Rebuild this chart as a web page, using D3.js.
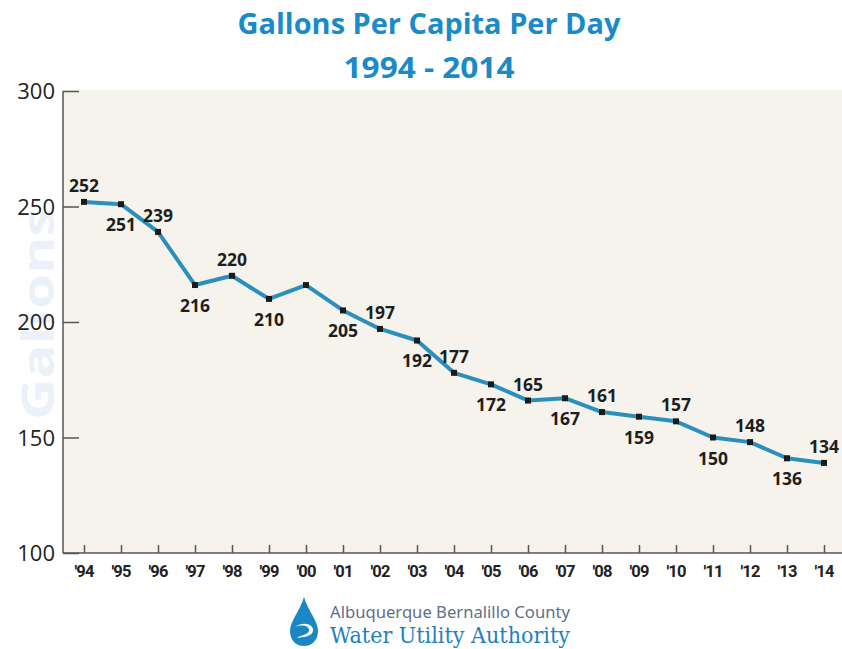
<!DOCTYPE html>
<html>
<head>
<meta charset="utf-8">
<script src="https://cdn.jsdelivr.net/npm/d3@7/dist/d3.min.js"></script>
<style>
  html, body { margin: 0; padding: 0; background: #ffffff; }
  svg { display: block; }
</style>
</head>
<body>
<script>
// ---- data ----
const years = ["'94","'95","'96","'97","'98","'99","'00","'01","'02","'03","'04","'05","'06","'07","'08","'09","'10","'11","'12","'13","'14"];
const gallons = [252, 251, 239, 216, 220, 210, 216, 205, 197, 192, 178, 173, 166, 167, 161, 159, 157, 150, 148, 141, 139];
const pointLabels = ["252","251","239","216","220","210","","205","197","192","177","172","165","167","161","159","157","150","148","136","134"];
const labelSide = ["up","down","up","down","up","down","","down","up","down","up","down","up","down","up","down","up","down","up","down","up"];
const yTicks = [100, 150, 200, 250, 300];
const titleLines = ["Gallons Per Capita Per Day", "1994 - 2014"];

const W = 842, H = 649;
const svg = d3.select("body").append("svg").attr("width", W).attr("height", H);

const plot = { left: 63, right: 842, top: 91, bottom: 553 };

// plot background
svg.append("rect")
  .attr("x", plot.left).attr("y", plot.top - 1)
  .attr("width", plot.right - plot.left).attr("height", plot.bottom - plot.top + 1)
  .attr("fill", "#f6f3ec");

// faint y axis title
const gt = svg.append("text")
  .attr("text-anchor", "middle")
  .attr("font-family", "Open Sans, sans-serif")
  .attr("font-weight", "bold")
  .attr("font-size", 44)
  .attr("fill", "#ecf1f9")
  .text("Gallons");
const gw = gt.node().getComputedTextLength();
gt.attr("transform", `translate(54,314) rotate(-90) scale(${212 / gw},1)`);

const x = d3.scalePoint().domain(years).range([84, 824]);
const y = d3.scaleLinear().domain([100, 300]).range([plot.bottom, plot.top]);

// y axis
const yAxis = svg.append("g")
  .attr("transform", `translate(${plot.left},0)`)
  .call(d3.axisRight(y).tickValues(yTicks).tickSize(16).tickFormat(""));
yAxis.select(".domain").attr("stroke", "#555").attr("stroke-width", 1.5).attr("d", `M0,${plot.top}V${plot.bottom}`);
yAxis.selectAll(".tick line").attr("stroke", "#555").attr("stroke-width", 1.5);

svg.append("g").selectAll("text").data(yTicks).join("text")
  .attr("x", 55).attr("y", d => y(d) + 8)
  .attr("text-anchor", "end")
  .attr("font-family", "Open Sans, sans-serif")
  .attr("font-size", 22)
  .attr("fill", "#222")
  .text(d => d);

// x axis
const xAxis = svg.append("g")
  .attr("transform", `translate(0,${plot.bottom})`)
  .call(d3.axisTop(x).tickSize(8).tickFormat(""));
xAxis.select(".domain").attr("stroke", "#555").attr("stroke-width", 1.5).attr("d", `M${plot.left},0H${plot.right}`);
xAxis.selectAll(".tick line").attr("stroke", "#555").attr("stroke-width", 1.5);

svg.append("g").selectAll("text").data(years).join("text")
  .attr("x", d => x(d)).attr("y", 577)
  .attr("text-anchor", "middle")
  .attr("font-family", "Roboto, sans-serif")
  .attr("font-weight", "bold")
  .attr("font-size", 16.5)
  .attr("letter-spacing", -0.8)
  .attr("fill", "#222")
  .text(d => d);

// line
const pts = years.map((yr, i) => ({ yr, v: gallons[i], lab: pointLabels[i], side: labelSide[i] }));
svg.append("path")
  .datum(pts)
  .attr("fill", "none")
  .attr("stroke", "#2a8fbd")
  .attr("stroke-width", 4)
  .attr("stroke-linejoin", "round")
  .attr("d", d3.line().x(d => x(d.yr)).y(d => y(d.v)));

svg.append("g").selectAll("rect").data(pts).join("rect")
  .attr("x", d => x(d.yr) - 3).attr("y", d => y(d.v) - 3)
  .attr("width", 6).attr("height", 6)
  .attr("fill", "#1a1a1a");

svg.append("g").selectAll("text").data(pts.filter(d => d.lab)).join("text")
  .attr("x", d => x(d.yr))
  .attr("y", d => d.side === "up" ? y(d.v) - 10 : y(d.v) + 27)
  .attr("text-anchor", "middle")
  .attr("font-family", "Open Sans, sans-serif")
  .attr("font-weight", "bold")
  .attr("font-size", 17.5)
  .attr("fill", "#1e1e1e")
  .text(d => d.lab);

// title
const titleW = [383, 171];
const titleY = [34, 78];
titleLines.forEach((t, i) => {
  const el = svg.append("text")
    .attr("text-anchor", "middle")
    .attr("font-family", "Open Sans, sans-serif")
    .attr("font-weight", "bold")
    .attr("font-size", 29)
    .attr("fill", "#1a8ac8")
    .text(t);
  const w = el.node().getComputedTextLength();
  const s = titleW[i] / w;
  el.attr("transform", `translate(429,${titleY[i]}) scale(${s},1)`);
});

// logo
const logo = svg.append("g").attr("transform", "translate(290,597)");
logo.append("path")
  .attr("d", "M14,0 C10,14 0,24 0,34 C0,43 6,49 14,49 C22,49 28,43 28,34 C28,24 18,14 14,0 Z")
  .attr("fill", "#1a86c4");
logo.append("path")
  .attr("d", "M5,30 C12,27 20,29 19,34 C18,38 10,38 7,41 C12,40 22,40 23,34 C24,27 13,24 5,30 Z")
  .attr("fill", "#ffffff");
svg.append("text")
  .attr("x", 330).attr("y", 618)
  .attr("font-family", "Noto Sans, sans-serif")
  .attr("font-size", 17)
  .attr("fill", "#5d7088")
  .attr("textLength", 240).attr("lengthAdjust", "spacingAndGlyphs")
  .text("Albuquerque Bernalillo County");
svg.append("text")
  .attr("x", 330).attr("y", 643)
  .attr("font-family", "DejaVu Serif, serif")
  .attr("font-size", 22)
  .attr("fill", "#1f80c2")
  .attr("textLength", 240).attr("lengthAdjust", "spacingAndGlyphs")
  .text("Water Utility Authority");
</script>
</body>
</html>
